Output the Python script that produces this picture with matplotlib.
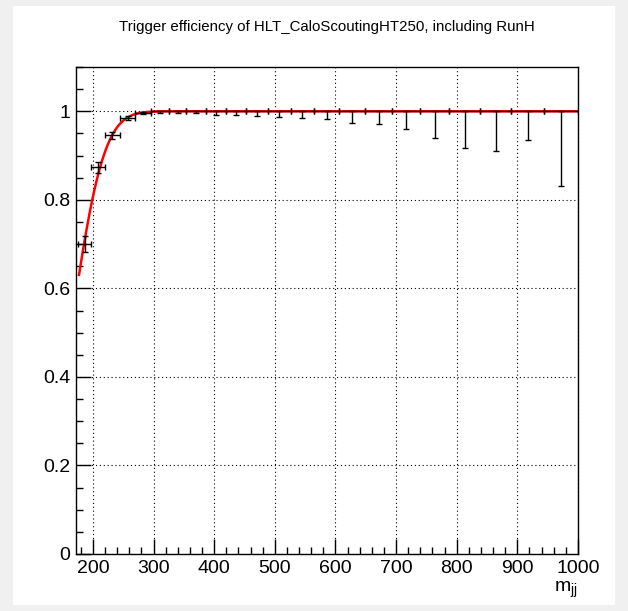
import math
import numpy as np
import matplotlib
matplotlib.use("Agg")
import matplotlib.pyplot as plt
from matplotlib.patches import Rectangle
from matplotlib.ticker import MultipleLocator, FuncFormatter

plt.rcParams['font.family'] = ['Liberation Sans', 'DejaVu Sans']

# dijet mass bin edges (GeV)
bin_edges = [176, 197, 220, 244, 270, 296, 325, 354, 386, 419, 453, 489,
             526, 565, 606, 649, 693, 740, 788, 838, 890, 944, 1000]
# efficiency per bin and asymmetric errors
efficiency = [0.700, 0.873, 0.946, 0.985, 0.997, 1.0, 1.0, 1.0, 1.0, 1.0, 1.0,
              1.0, 1.0, 1.0, 1.0, 1.0, 1.0, 1.0, 1.0, 1.0, 1.0, 1.0]
err_low = [0.018, 0.012, 0.008, 0.004, 0.003, 0.0036, 0.004, 0.005, 0.0074,
           0.008, 0.010, 0.013, 0.015, 0.0165, 0.026, 0.0285, 0.041, 0.060,
           0.084, 0.089, 0.066, 0.169]
err_high = [0.018, 0.012, 0.007, 0.004, 0.002, 0.0, 0.0, 0.0, 0.0, 0.0, 0.0,
            0.0, 0.0, 0.0, 0.0, 0.0, 0.0, 0.0, 0.0, 0.0, 0.0, 0.0]

# erf turn-on fit parameters
fit_mu = 162.7
fit_sigma = 60.7
fit_range = (177, 1000)

edges = np.array(bin_edges, dtype=float)
centers = 0.5 * (edges[:-1] + edges[1:])
xlo = centers - edges[:-1]
xhi = edges[1:] - centers

W, H = 628, 611
fig = plt.figure(figsize=(W / 100, H / 100), dpi=100, facecolor='#f0f0f0')
fig.patches.append(Rectangle((13 / W, 1 - 605 / H), 602 / W, 599 / H,
                             transform=fig.transFigure, facecolor='white',
                             edgecolor='none', zorder=-5))

ax = fig.add_axes([76 / W, 1 - 554 / H, 502 / W, 487 / H])
ax.set_zorder(2)
ax.set_xlim(172, 1000)
ax.set_ylim(0, 1.1)

ax.grid(True, which='major', color='black', linestyle=(0, (1, 2.5)), lw=0.8)
ax.set_axisbelow(True)

# fit curve
xf = np.linspace(fit_range[0], fit_range[1], 600)
yf = [0.5 * (1 + math.erf((v - fit_mu) / fit_sigma)) for v in xf]
ax.plot(xf, yf, color='red', lw=1.8, zorder=3)

ax.errorbar(centers, efficiency, xerr=[xlo, xhi], yerr=[err_low, err_high],
            fmt='none', ecolor='black', elinewidth=1.0, capsize=2.2,
            capthick=1.0, zorder=4)

ax.xaxis.set_major_locator(MultipleLocator(100))
ax.xaxis.set_minor_locator(MultipleLocator(20))
ax.yaxis.set_major_locator(MultipleLocator(0.2))
ax.yaxis.set_minor_locator(MultipleLocator(0.05))
ax.yaxis.set_major_formatter(FuncFormatter(lambda v, p: '%g' % round(v, 2)))
ax.tick_params(which='both', direction='in', top=False, right=False,
               labelsize=14, width=1.0, colors='black')
ax.tick_params(which='major', length=10.5, pad=4)
ax.tick_params(which='minor', length=5)
for s in ax.spines.values():
    s.set_linewidth(1.0)

fig.text(578 / W, 1 - 592 / H, r'm$_{\mathregular{jj}}$', ha='right',
         va='baseline', fontsize=14)
fig.text(327 / W, 1 - 27 / H,
         'Trigger efficiency of HLT_CaloScoutingHT250, including RunH',
         ha='center', va='center', fontsize=10.8)

fig.savefig('out.png', dpi=100, facecolor=fig.get_facecolor())
